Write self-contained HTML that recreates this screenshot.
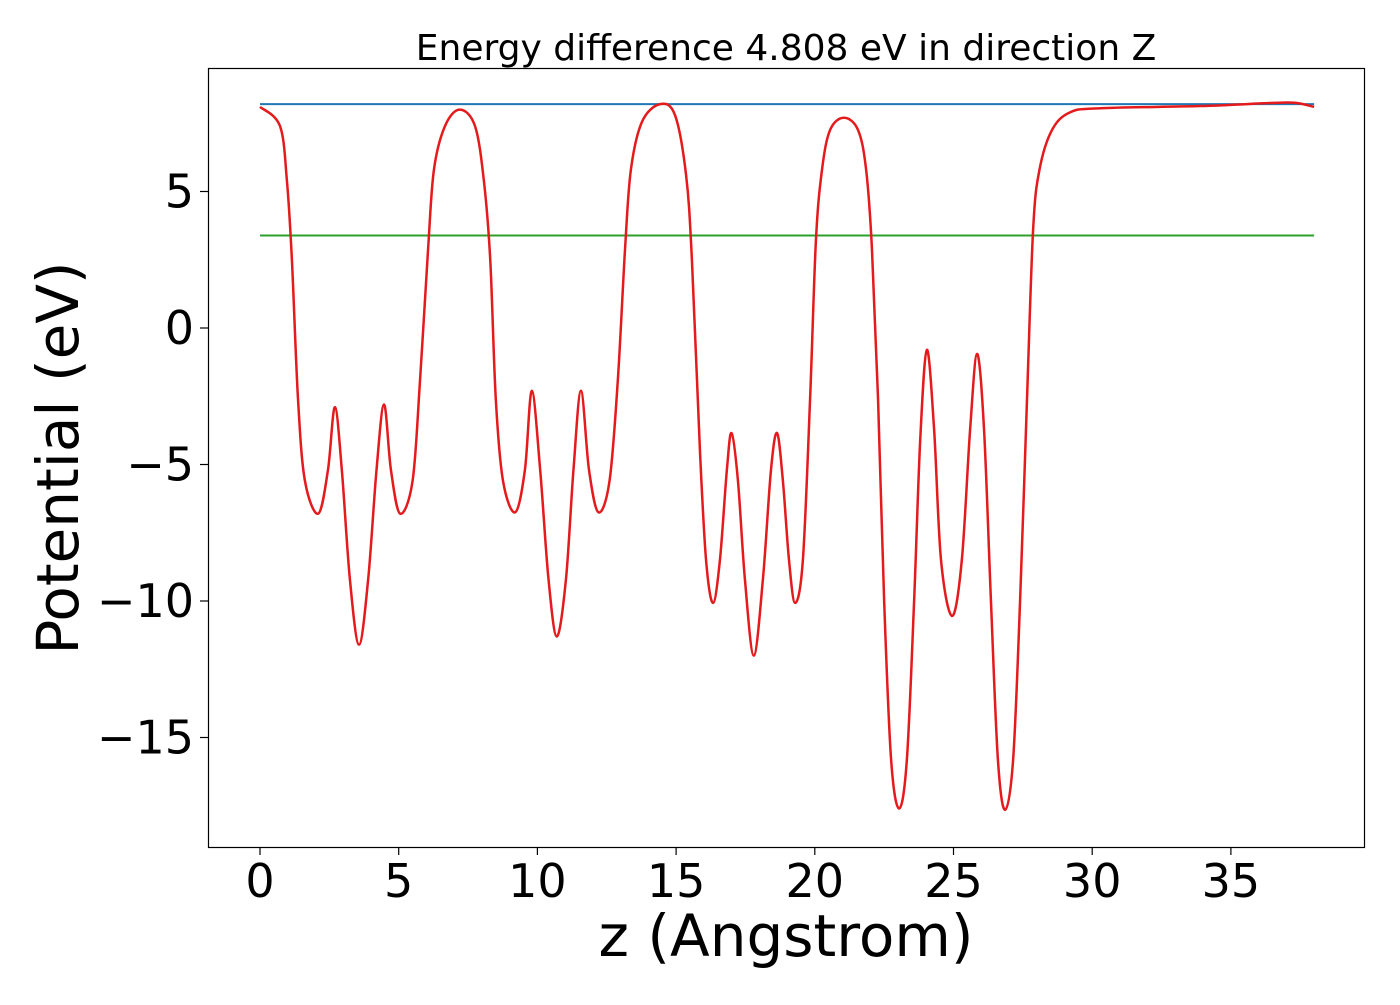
<!DOCTYPE html>
<html><head><meta charset="utf-8"><style>
body{margin:0;background:#fff;}
svg text{font-family:"DejaVu Sans","Liberation Sans",sans-serif;fill:#000;}
</style></head><body>
<svg id="chart" width="1400" height="1000">
<rect x="0" y="0" width="1400" height="1000" fill="#fff"/>
<text x="786" y="60" font-size="36" text-anchor="middle">Energy difference 4.808 eV in direction Z</text>
<g id="xt"></g><g id="yt"></g>
<g id="lines"></g>
<rect x="208.5" y="68.5" width="1156" height="779" fill="none" stroke="#000" stroke-width="1.2"/>
<text x="786" y="956" font-size="58" text-anchor="middle">z (Angstrom)</text>
<text transform="translate(78,458) rotate(-90)" font-size="58" text-anchor="middle">Potential (eV)</text>
</svg>
<script>
const xTicks=[0,5,10,15,20,25,30,35];
const yTicks=[5,0,-5,-10,-15];
const vacuumLevel=8.2;
const fermiLevel=3.39;
const zValues=[0,0.72,0.97,1.15,1.37,1.62,2.1,2.45,2.7,2.95,3.24,3.57,3.9,4.2,4.47,4.72,5.05,5.5,5.77,6.06,6.27,6.67,7.2,7.75,8.07,8.3,8.5,8.76,9.2,9.55,9.8,10.1,10.4,10.7,11.03,11.3,11.57,11.86,12.2,12.6,12.9,13.16,13.37,13.77,14.42,14.96,15.36,15.57,15.86,16.08,16.33,16.58,16.83,17.0,17.23,17.48,17.8,18.13,18.42,18.64,18.85,19.07,19.29,19.57,19.83,20.04,20.26,20.55,21.05,21.56,21.85,22.06,22.28,22.5,22.75,23.04,23.32,23.58,23.8,24.04,24.3,24.55,24.95,25.3,25.6,25.85,26.1,26.35,26.6,26.86,27.15,27.4,27.65,27.87,28.1,28.55,29.2,30.3,33.9,36.4,37.3,38];
const potValues=[8.1,7.4,5.4,2.5,-2.6,-5.6,-6.8,-5.2,-2.9,-5.2,-9.2,-11.6,-9.2,-5.2,-2.8,-5.2,-6.8,-5.6,-1.9,2.9,5.8,7.4,8.0,7.4,5.4,2.5,-2.6,-5.6,-6.75,-5.2,-2.3,-5.2,-9.2,-11.3,-9.2,-5.2,-2.3,-5.2,-6.75,-5.6,-1.9,2.9,5.8,7.55,8.2,7.8,5.6,2.5,-4.5,-8.5,-10.07,-8.5,-5.2,-3.85,-5.6,-9.2,-12.0,-9.2,-5.2,-3.85,-5.6,-8.5,-10.07,-8.5,-2.6,3.2,5.8,7.25,7.7,7.25,5.8,2.9,-2.6,-10,-15.8,-17.6,-15.8,-10,-4.1,-0.8,-3.7,-8.5,-10.55,-8.5,-3.7,-0.95,-3.7,-10,-15.8,-17.65,-15.8,-10,-2.6,3.6,5.8,7.25,7.9,8.05,8.13,8.24,8.25,8.1];
const X=z=>260+z*27.74, Y=v=>328-v*27.3;
const NS='http://www.w3.org/2000/svg';
function mk(t,a,p){const e=document.createElementNS(NS,t);for(const k in a)e.setAttribute(k,a[k]);p.appendChild(e);return e;}
const xt=document.getElementById('xt'),yt=document.getElementById('yt'),lines=document.getElementById('lines');
xTicks.forEach(t=>{
 const l=mk('line',{x1:X(t),x2:X(t),y1:847,y2:855,stroke:'#000','stroke-width':1.2},xt);
 
 
 const s=mk('text',{x:X(t),y:897,'font-size':46,'text-anchor':'middle'},xt);s.textContent=t;
 
 
});
yTicks.forEach(t=>{
 const l=mk('line',{x1:200,x2:208,y1:Y(t),y2:Y(t),stroke:'#000','stroke-width':1.2},yt);
 
 
 const s=mk('text',{x:194,y:Y(t)+16,'font-size':46,'text-anchor':'end'},yt);s.textContent=(t<0?'\u2212'+(-t):t);
 
 
});
const b=mk('line',{x1:X(0),x2:X(38),y1:Y(vacuumLevel),y2:Y(vacuumLevel),stroke:'#1f77b4','stroke-width':2},lines);


const g=mk('line',{x1:X(0),x2:X(38),y1:Y(fermiLevel),y2:Y(fermiLevel),stroke:'#2ca02c','stroke-width':2},lines);


const P=zValues.map((z,i)=>[X(z),Y(potValues[i])]);
let d='M'+P[0][0]+','+P[0][1];
for(let i=0;i<P.length-1;i++){
 const p0=P[Math.max(0,i-1)],p1=P[i],p2=P[i+1],p3=P[Math.min(P.length-1,i+2)];
 const c1=[p1[0]+(p2[0]-p0[0])/6,p1[1]+(p2[1]-p0[1])/6],c2=[p2[0]-(p3[0]-p1[0])/6,p2[1]-(p3[1]-p1[1])/6];
 d+=` C${c1[0]},${c1[1]} ${c2[0]},${c2[1]} ${p2[0]},${p2[1]}`;
}
const r=mk('path',{d:d,fill:'none',stroke:'#e41a1c','stroke-width':2.5},lines);


</script>
</body></html>
